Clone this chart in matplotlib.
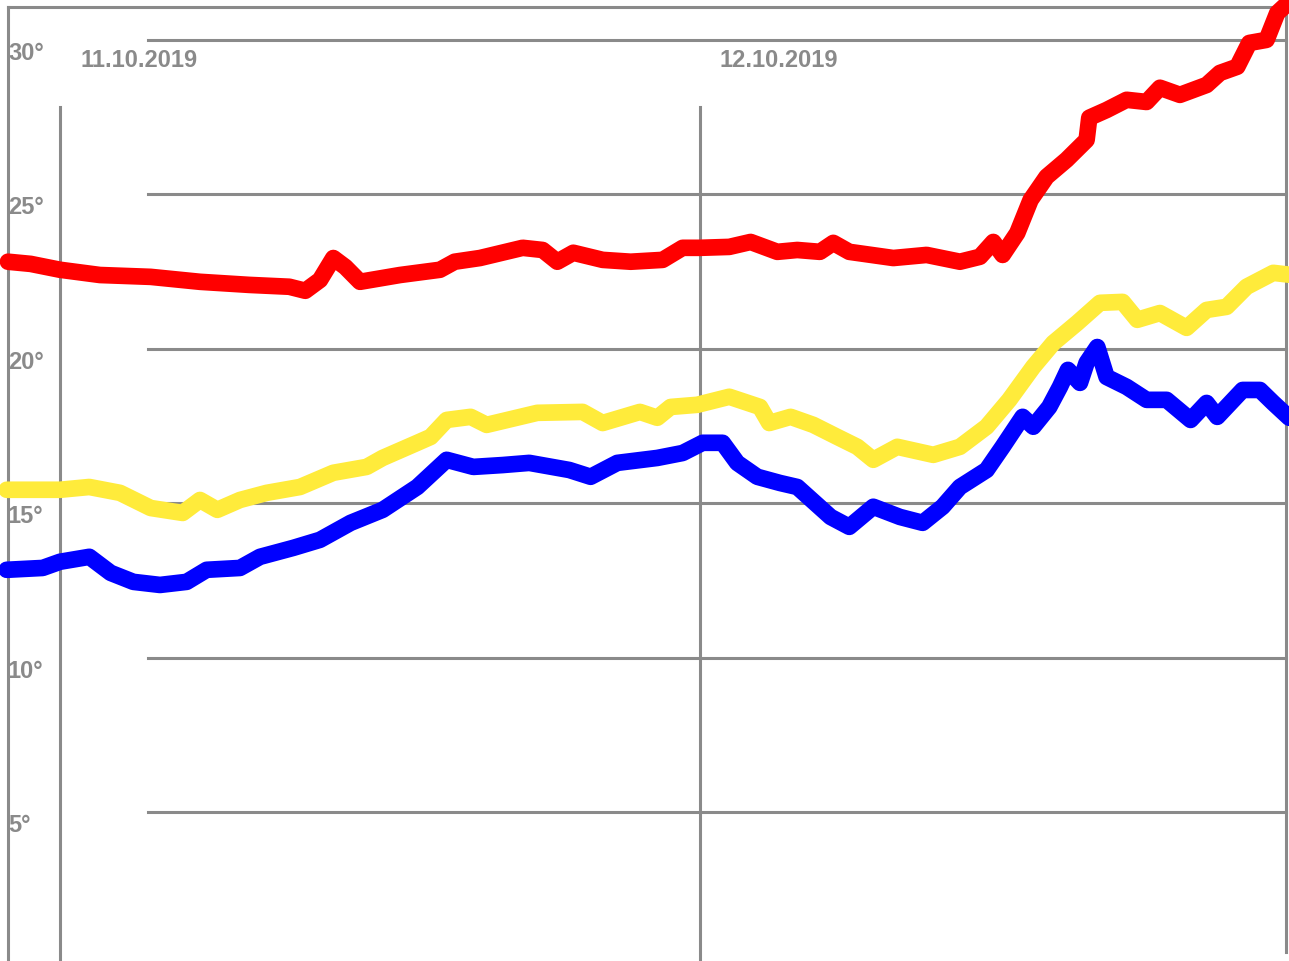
import matplotlib
matplotlib.use("Agg")
import matplotlib.pyplot as plt

# hours since 11.10.2019 00:00
red_h = [-1.95, -1.1, 0, 1.5, 3.4, 5.25, 7.1, 8.6, 9.2, 9.75, 10.25, 10.7, 11.25, 12.75,
         14.25, 14.8, 15.75, 17.35, 18.1, 18.65, 19.25, 20.35, 21.4, 22.6, 23.35, 24.0,
         25.1, 25.9, 26.9, 27.65, 28.5, 29.0, 29.6, 31.25, 32.5, 33.75, 34.5, 35.0, 35.35,
         35.9, 36.4, 37.0, 37.75, 38.5, 38.6, 39.25, 40.0, 40.75, 41.25, 42.0, 43.0, 43.5,
         44.15, 44.6, 45.25, 45.65, 46.1]
red_t = [22.82, 22.75, 22.56, 22.39, 22.33, 22.17, 22.07, 22.01, 21.88, 22.23, 22.94,
         22.65, 22.17, 22.39, 22.56, 22.82, 22.94, 23.27, 23.20, 22.82, 23.11, 22.88, 22.82,
         22.88, 23.27, 23.27, 23.30, 23.46, 23.14, 23.20, 23.14, 23.43, 23.14, 22.94, 23.04,
         22.82, 22.98, 23.46, 23.04, 23.75, 24.82, 25.57, 26.12, 26.76, 27.48, 27.73, 28.06,
         27.99, 28.45, 28.22, 28.54, 28.93, 29.13, 29.90, 30.00, 30.87, 31.23]

yellow_h = [-2.0, 0, 1.1, 2.25, 3.4, 4.6, 5.25, 5.9, 6.75, 7.75, 9.0, 10.25, 11.5, 12.1,
            13.4, 13.9, 14.5, 15.4, 16.0, 17.9, 19.6, 20.35, 21.75, 22.4, 22.9, 23.9, 25.1,
            26.25, 26.6, 27.4, 28.25, 29.15, 29.9, 30.5, 31.4, 32.75, 33.75, 34.75, 35.6,
            36.5, 37.25, 38.15, 39.0, 39.85, 40.4, 41.25, 42.25, 43.0, 43.75, 44.5, 45.5, 46.1]
yellow_t = [15.44, 15.44, 15.53, 15.34, 14.85, 14.69, 15.11, 14.79, 15.11, 15.34, 15.53,
            15.99, 16.18, 16.47, 16.96, 17.15, 17.70, 17.80, 17.54, 17.93, 17.96, 17.60, 17.96,
            17.77, 18.12, 18.19, 18.45, 18.12, 17.60, 17.80, 17.54, 17.15, 16.83, 16.41, 16.83,
            16.57, 16.83, 17.48, 18.35, 19.42, 20.19, 20.84, 21.49, 21.52, 20.94, 21.16, 20.68,
            21.26, 21.36, 22.01, 22.46, 22.40]

blue_h = [-2.0, -0.65, 0, 1.1, 1.9, 2.75, 3.75, 4.75, 5.5, 6.75, 7.5, 8.75, 9.75, 10.9,
          12.1, 13.4, 14.5, 15.5, 16.6, 17.6, 19.1, 19.9, 20.9, 22.4, 23.35, 24.1, 24.85,
          25.4, 26.15, 27.0, 27.65, 28.9, 29.6, 30.5, 31.5, 32.35, 33.1, 33.75, 34.75, 35.35,
          36.1, 36.5, 37.1, 37.5, 37.8, 38.25, 38.5, 38.9, 39.25, 40.0, 40.75, 41.5, 42.4,
          43.0, 43.4, 44.35, 45.0, 45.5, 46.1]
blue_t = [12.85, 12.91, 13.11, 13.27, 12.75, 12.46, 12.36, 12.46, 12.85, 12.91, 13.27,
          13.56, 13.82, 14.37, 14.79, 15.53, 16.41, 16.18, 16.24, 16.31, 16.08, 15.86, 16.31,
          16.47, 16.63, 16.96, 16.96, 16.31, 15.86, 15.66, 15.53, 14.56, 14.24, 14.89, 14.56,
          14.37, 14.89, 15.53, 16.08, 16.83, 17.80, 17.48, 18.12, 18.77, 19.32, 18.90, 19.55,
          20.06, 19.09, 18.77, 18.35, 18.35, 17.70, 18.25, 17.80, 18.67, 18.67, 18.25, 17.77]

y_ticks = [5, 10, 15, 20, 25, 30]
y_labels = ["5°", "10°", "15°", "20°", "25°", "30°"]
day_hours = [0, 24]
day_labels = ["11.10.2019", "12.10.2019"]

grey = "#8a8a8a"

fig = plt.figure(figsize=(12.89, 9.61), dpi=100)
ax = fig.add_axes([0, 0, 1, 1])
ax.set_xlim(-2.25, 46.09)
ax.set_ylim(0.19, 31.29)
ax.axis("off")

# frame
ax.plot([-1.95, -1.95], [0, 31.07], color=grey, lw=2.2)
ax.plot([-1.95, 45.97], [31.07, 31.07], color=grey, lw=2.2)
ax.plot([45.97, 45.97], [31.07, 0.48], color=grey, lw=2.2)

for t, lab in zip(y_ticks, y_labels):
    ax.plot([3.3, 45.97], [t, t], color=grey, lw=2.2)
    ax.text(-1.95, t - 0.65, lab, color=grey, fontsize=17, fontweight="bold",
            family="Liberation Sans", ha="left", va="baseline")

for h, lab in zip(day_hours, day_labels):
    ax.plot([h, h], [0, 27.83], color=grey, lw=2.2)
    ax.text(h + 2.95, 29.11, lab, color=grey, fontsize=17, fontweight="bold",
            family="Liberation Sans", ha="center", va="baseline")

kw = dict(lw=12, solid_capstyle="round", solid_joinstyle="round")
ax.plot(red_h, red_t, color="#ff0000", **kw)
ax.plot(yellow_h, yellow_t, color="#ffeb3b", **kw)
ax.plot(blue_h, blue_t, color="#0000ff", **kw)

fig.savefig("out.png", dpi=100)
